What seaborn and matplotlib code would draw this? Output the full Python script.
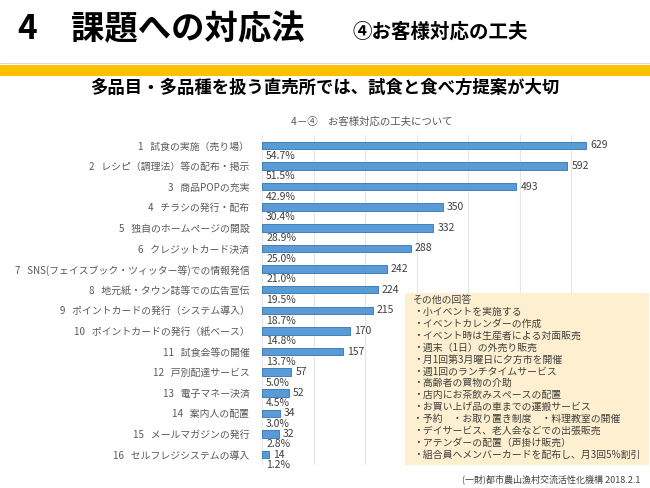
import matplotlib
matplotlib.use("Agg")
import matplotlib.pyplot as plt
import seaborn as sns
import pandas as pd
from matplotlib.patches import Rectangle

# ----------------------------
# データ
# ----------------------------
items = [
    "1   試食の実施（売り場）",
    "2   レシピ（調理法）等の配布・掲示",
    "3   商品POPの充実",
    "4   チラシの発行・配布",
    "5   独自のホームページの開設",
    "6   クレジットカード決済",
    "7   SNS(フェイスブック・ツィッター等)での情報発信",
    "8   地元紙・タウン誌等での広告宣伝",
    "9   ポイントカードの発行（システム導入）",
    "10   ポイントカードの発行（紙ベース）",
    "11   試食会等の開催",
    "12   戸別配達サービス",
    "13   電子マネー決済",
    "14   案内人の配置",
    "15   メールマガジンの発行",
    "16   セルフレジシステムの導入",
]
counts = [629, 592, 493, 350, 332, 288, 242, 224, 215, 170, 157, 57, 52, 34, 32, 14]
percents = ["54.7%", "51.5%", "42.9%", "30.4%", "28.9%", "25.0%", "21.0%", "19.5%",
            "18.7%", "14.8%", "13.7%", "5.0%", "4.5%", "3.0%", "2.8%", "1.2%"]

other_answers = [
    "その他の回答",
    "・小イベントを実施する",
    "・イベントカレンダーの作成",
    "・イベント時は生産者による対面販売",
    "・週末（1日）の外売り販売",
    "・月1回第3月曜日に夕方市を開催",
    "・週1回のランチタイムサービス",
    "・高齢者の買物の介助",
    "・店内にお茶飲みスペースの配置",
    "・お買い上げ品の車までの運搬サービス",
    "・予約　・お取り置き制度　・料理教室の開催",
    "・デイサービス、老人会などでの出張販売",
    "・アテンダーの配置（声掛け販売）",
    "・組合員へメンバーカードを配布し、月3回5%割引",
]

df = pd.DataFrame({"item": items, "count": counts, "pct": percents})

# ----------------------------
# 描画
# ----------------------------
sns.set_style("white")
plt.rcParams["font.family"] = ["Noto Sans CJK JP", "DejaVu Sans"]

W, H = 650, 488
fig = plt.figure(figsize=(6.5, 4.88), dpi=100)

def fx(px):
    return px / W

def fy(py):
    return 1 - py / H

# 見出し
fig.text(fx(18), fy(30), "4　課題への対応法", fontsize=24, fontweight="bold",
         va="center", ha="left", color="black")
fig.text(fx(352), fy(32), "④お客様対応の工夫", fontsize=14, fontweight="bold",
         va="center", ha="left", color="black")
fig.patches.append(Rectangle((0, fy(76)), 1, (76 - 65) / H, transform=fig.transFigure,
                             facecolor="#FFC000", edgecolor="none"))
fig.lines.append(plt.Line2D([0, 1], [fy(63), fy(63)], transform=fig.transFigure,
                            color="#d9d9d9", lw=0.8))
fig.text(0.5, fy(88), "多品目・多品種を扱う直売所では、試食と食べ方提案が大切",
         fontsize=12.5, fontweight="bold", ha="center", va="center", color="black")
fig.text(fx(372), fy(122), "4－④　お客様対応の工夫について", fontsize=7.5,
         ha="center", va="center", color="#595959")

# グラフ
ax = fig.add_axes([fx(262), fy(465), fx(623 - 262), (465 - 135) / H])
sns.barplot(data=df, y="item", x="count", orient="h", color="#5B9BD5", saturation=1,
            width=0.36, edgecolor="#2E75B6", linewidth=0.6, ax=ax)
ax.set_xlim(0, 700)
ax.set_xticks(range(0, 701, 100))
ax.xaxis.grid(True, color="#e6e6e6", lw=0.8)
ax.set_axisbelow(True)
ax.set_xticklabels([])
ax.tick_params(axis="x", length=0)
ax.tick_params(axis="y", length=0, labelsize=7.1, labelcolor="#595959", pad=9)
ax.set_xlabel("")
ax.set_ylabel("")
for s in ax.spines.values():
    s.set_visible(False)

for i, (c, p) in enumerate(zip(counts, percents)):
    ax.text(c + 8, i, str(c), va="center", ha="left", fontsize=7.5, color="#404040")
    ax.text(8, i + 0.5, p, va="center", ha="left", fontsize=7.5, color="#404040")

# その他の回答
fig.patches.append(Rectangle((fx(405), fy(465)), fx(649 - 405), (465 - 293) / H,
                             transform=fig.transFigure, facecolor="#FDEFCF",
                             edgecolor="none", zorder=5))
for k, line in enumerate(other_answers):
    fig.text(fx(413), fy(300 + k * 11.9), line, fontsize=7.1, ha="left", va="center",
             color="#404040", zorder=6)

fig.text(fx(640), fy(479), "(一財)都市農山漁村交流活性化機構 2018.2.1", fontsize=6.5,
         ha="right", va="center", color="#404040")

fig.savefig("out.png", dpi=100)
